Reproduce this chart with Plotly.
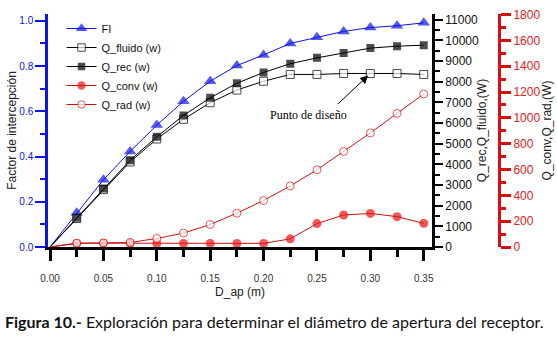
import plotly.graph_objects as go

d_ap = [0.0, 0.025, 0.05, 0.075, 0.10, 0.125, 0.15, 0.175, 0.20, 0.225, 0.25, 0.275, 0.30, 0.325, 0.35]
fi = [0.0, 0.151, 0.297, 0.422, 0.539, 0.644, 0.733, 0.802, 0.849, 0.900, 0.927, 0.953, 0.970, 0.978, 0.991]
q_fluido = [0, 1380, 2780, 4120, 5230, 6185, 6987, 7601, 8026, 8356, 8356, 8403, 8403, 8403, 8356]
q_rec = [0, 1416, 2833, 4202, 5335, 6373, 7223, 7931, 8451, 8876, 9159, 9395, 9631, 9725, 9773]
q_conv = [0, 28, 30, 29, 28, 28, 28, 28, 28, 63, 181, 248, 260, 235, 183]
q_rad = [0, 30, 32, 35, 66, 108, 174, 262, 360, 473, 598, 740, 883, 1034, 1185]

design_x = 0.30
design_y = 8403

BLUE = "#0a14e6"
RED = "#ee1111"
FONT = "Liberation Sans"

def sizes(s):
    return [0] + [s] * (len(d_ap) - 1)

fig = go.Figure()
fig.add_trace(go.Scatter(
    x=d_ap, y=fi, name="FI", yaxis="y", mode="lines+markers",
    line=dict(color=BLUE, width=1),
    marker=dict(symbol="triangle-up", size=sizes(11), color=BLUE, line=dict(width=0))))
fig.add_trace(go.Scatter(
    x=d_ap, y=q_fluido, name="Q_fluido (w)", yaxis="y2", mode="lines+markers",
    line=dict(color="black", width=1),
    marker=dict(symbol="square", size=sizes(8), color="white", line=dict(color="black", width=1))))
fig.add_trace(go.Scatter(
    x=d_ap, y=q_rec, name="Q_rec (w)", yaxis="y2", mode="lines+markers",
    line=dict(color="black", width=1),
    marker=dict(symbol="square", size=sizes(8), color="black", line=dict(width=0))))
fig.add_trace(go.Scatter(
    x=d_ap, y=q_conv, name="Q_conv (w)", yaxis="y3", mode="lines+markers",
    line=dict(color="#cc1010", width=1),
    marker=dict(symbol="circle", size=sizes(9), color=RED, line=dict(width=0))))
fig.add_trace(go.Scatter(
    x=d_ap, y=q_rad, name="Q_rad (w)", yaxis="y3", mode="lines+markers",
    line=dict(color="#cc1010", width=1),
    marker=dict(symbol="circle", size=sizes(8), color="white", line=dict(color="#dd1111", width=1))))

fig.update_layout(
    width=557, height=338,
    margin=dict(l=48, r=57, t=8, b=91),
    paper_bgcolor="white", plot_bgcolor="white",
    font=dict(family=FONT, size=11, color="#222"),
    showlegend=True,
    legend=dict(x=0.03, y=1.0, xanchor="left", yanchor="top",
                bgcolor="rgba(0,0,0,0)", font=dict(family=FONT, size=11, color="#111"),
                itemwidth=30, tracegroupgap=0),
    xaxis=dict(domain=[0, 0.8518], range=[-0.0019, 0.3579],
               tickvals=[0.0, 0.05, 0.10, 0.15, 0.20, 0.25, 0.30, 0.35], tickformat=".2f",
               showline=True, linecolor="black", linewidth=2.5,
               ticks="outside", ticklen=11, tickwidth=2.5, tickcolor="black",
               ticklabelstandoff=9,
               minor=dict(dtick=0.025, tick0=0, ticklen=7, tickwidth=2.5, tickcolor="black", ticks="outside"),
               showgrid=False, zeroline=False,
               tickfont=dict(family=FONT, size=10, color="#333"),
               title=dict(text="D_ap (m)", font=dict(family=FONT, size=12, color="#222"), standoff=5)),
    yaxis=dict(range=[0, 1.030], dtick=0.2, tick0=0, tickformat=".1f",
               showline=True, linecolor=BLUE, linewidth=2.5,
               ticks="outside", ticklen=10, tickwidth=2, tickcolor=BLUE,
               minor=dict(dtick=0.1, tick0=0, ticklen=5, tickwidth=2, tickcolor=BLUE, ticks="outside"),
               showgrid=False, zeroline=False,
               tickfont=dict(family=FONT, size=10, color=BLUE),
               title=dict(text="Factor de intercepción", font=dict(family=FONT, size=12, color="#222"), standoff=0)),
    yaxis2=dict(range=[0, 11283], overlaying="y", side="right", anchor="x",
                dtick=1000, tick0=0, tickformat="d",
                showline=True, linecolor="black", linewidth=2.5,
                ticks="outside", ticklen=8, tickwidth=2, tickcolor="black",
                minor=dict(dtick=500, tick0=0, ticklen=5, tickwidth=2, tickcolor="black", ticks="outside"),
                showgrid=False, zeroline=False,
                tickfont=dict(family=FONT, size=12, color="#111"),
                title=dict(text="Q_rec,Q_fluido,(W)", font=dict(family=FONT, size=12, color="#222"), standoff=0)),
    yaxis3=dict(range=[0, 1804], overlaying="y", side="right", anchor="free", position=1.0,
                dtick=200, tick0=0, tickformat="d",
                showline=True, linecolor="#d41010", linewidth=3,
                ticks="outside", ticklen=10, tickwidth=2.5, tickcolor="#d41010",
                minor=dict(dtick=100, tick0=0, ticklen=5, tickwidth=2.5, tickcolor="#d41010", ticks="outside"),
                showgrid=False, zeroline=False,
                tickfont=dict(family=FONT, size=12, color="#e02020"),
                title=dict(text="Q_conv,Q_rad,(W)", font=dict(family=FONT, size=12, color="#222"), standoff=0)),
)

fig.add_annotation(x=design_x, y=design_y, xref="x", yref="y2", text="",
                   showarrow=True, arrowhead=2, arrowsize=1.6, arrowwidth=1, arrowcolor="black",
                   ax=-34, ay=32, standoff=3)
fig.add_annotation(x=design_x, y=design_y, xref="x", yref="y2", text="Punto de diseño",
                   showarrow=False, xshift=-62, yshift=-42,
                   font=dict(family="Liberation Serif", size=12, color="black"))
fig.add_annotation(x=0.5, y=-0.32, xref="paper", yref="paper", xanchor="center", yanchor="middle",
                   text="<b>Figura 10.-</b> Exploración para determinar el diámetro de apertura del receptor.",
                   showarrow=False, font=dict(family="Lato", size=16, color="#111"))

fig.write_html("out.html", config={"displayModeBar": False},
               post_script="document.body.style.margin='0';document.body.style.padding='0';")
